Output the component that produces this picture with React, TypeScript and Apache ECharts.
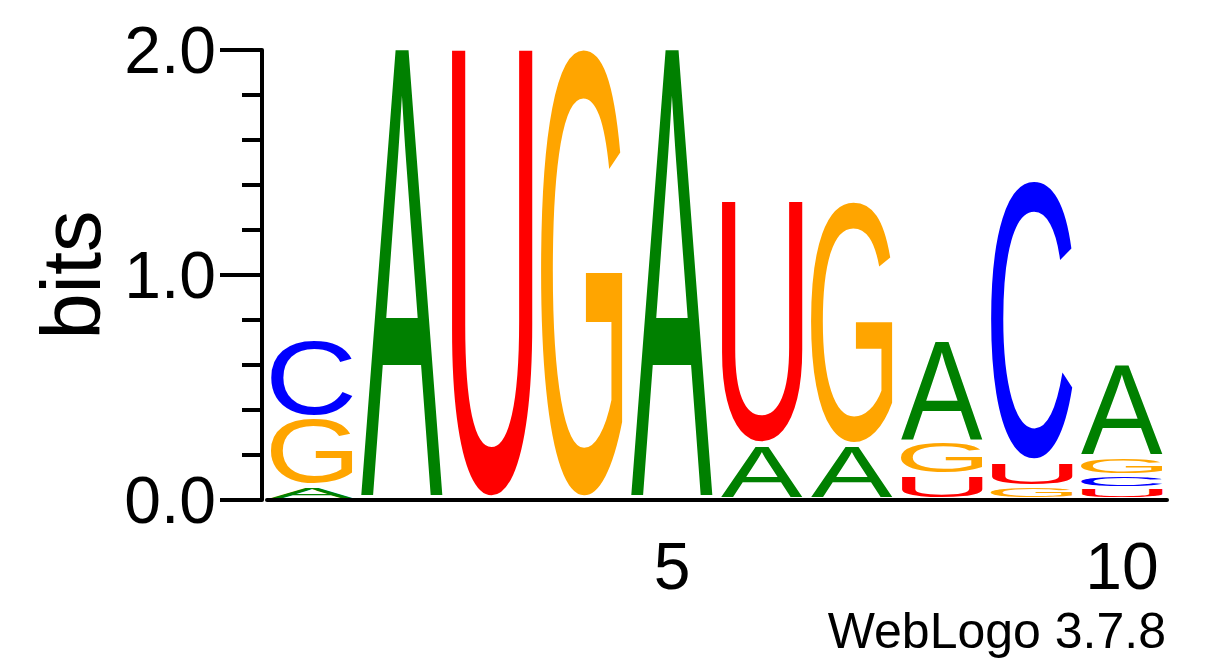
import React, { useEffect, useRef } from "react";
import * as echarts from "echarts";

const positions = ["1", "2", "3", "4", "5", "6", "7", "8", "9", "10"];
const letters = ["A", "C", "G", "U"];
const letterColors = ["#008000", "#0000ff", "#ffa500", "#ff0000"];

// information content (bits) of each letter at each position
const bitsA = [0.064, 2.0, 0, 0, 2.0, 0.242, 0.242, 0.453, 0, 0.409];
const bitsC = [0.346, 0, 0, 0, 0, 0, 0, 0, 1.249, 0.058];
const bitsG = [0.303, 0, 0, 2.0, 0, 0, 1.085, 0.151, 0.06, 0.084];
const bitsU = [0, 0, 2.0, 0, 0, 1.085, 0, 0.109, 0.107, 0.051];

const yTickLabels = ["0.0", "1.0", "2.0"];
const xTickLabels = ["5", "10"];

const FAMILY = '"Liberation Sans", Arial, Helvetica, sans-serif';
const LETTER_FONT = `100px ${FAMILY}`;

type Glyph = { left: number; width: number; top: number; height: number };

// ink box of each letter, in the local coords of a zrender text (central baseline at y=0)
function measureGlyphs(): Glyph[] {
  const ns = "http://www.w3.org/2000/svg";
  const svg = document.createElementNS(ns, "svg");
  svg.setAttribute("width", "400");
  svg.setAttribute("height", "400");
  svg.style.position = "absolute";
  svg.style.left = "-1000px";
  svg.style.top = "0";
  document.body.appendChild(svg);
  const boxTop = (baseline: string) => {
    const t = document.createElementNS(ns, "text");
    t.setAttribute("x", "0");
    t.setAttribute("y", "200");
    t.setAttribute("dominant-baseline", baseline);
    (t as any).style.font = LETTER_FONT;
    t.textContent = "A";
    svg.appendChild(t);
    return (t as any).getBBox().y;
  };
  const shift = boxTop("central") - boxTop("alphabetic");
  document.body.removeChild(svg);

  const ctx = document.createElement("canvas").getContext("2d")!;
  ctx.font = LETTER_FONT;
  ctx.textAlign = "left";
  ctx.textBaseline = "alphabetic";
  return letters.map((ch) => {
    const m = ctx.measureText(ch);
    return {
      left: -m.actualBoundingBoxLeft,
      width: m.actualBoundingBoxLeft + m.actualBoundingBoxRight,
      top: shift - m.actualBoundingBoxAscent,
      height: m.actualBoundingBoxAscent + m.actualBoundingBoxDescent,
    };
  });
}

const letterBits = [bitsA, bitsC, bitsG, bitsU];

const App: React.FC = () => {
  const chartRef = useRef<HTMLDivElement>(null);

  useEffect(() => {
    if (!chartRef.current) return;
    const glyphs = measureGlyphs();
    const chart = echarts.init(chartRef.current, null, { renderer: "svg" });

    // smallest letter at the bottom of each stack
    const stackData: number[][] = [];
    positions.forEach((_, i) => {
      const order = letters
        .map((_, k) => k)
        .filter((k) => letterBits[k][i] > 0)
        .sort((a, b) => letterBits[a][i] - letterBits[b][i]);
      let base = 0;
      order.forEach((k) => {
        const h = letterBits[k][i];
        stackData.push([i, base, base + h, k]);
        base += h;
      });
    });

    const showTick = (_: number, value: string) => xTickLabels.includes(value);

    const option = {
      animation: false,
      grid: { left: 267, right: 50, top: 50, bottom: 167 },
      xAxis: [
        {
          type: "category",
          data: positions,
          position: "bottom",
          axisLine: { show: true, lineStyle: { color: "#000", width: 4 } },
          axisTick: { alignWithLabel: true, interval: 0, length: 11, lineStyle: { color: "#000", width: 4 } },
          axisLabel: { show: false },
          splitLine: { show: false },
        },
        {
          type: "category",
          data: positions,
          position: "bottom",
          axisLine: { show: false },
          axisTick: { alignWithLabel: true, interval: showTick, length: 22, lineStyle: { color: "#000", width: 4 } },
          axisLabel: {
            interval: showTick,
            margin: 33,
            fontSize: 66,
            fontFamily: FAMILY,
            color: "#000",
          },
          splitLine: { show: false },
        },
      ],
      yAxis: {
        type: "value",
        min: 0,
        max: 2,
        interval: 1,
        offset: 5,
        name: "bits",
        nameLocation: "middle",
        nameRotate: 90,
        nameGap: 191,
        nameTextStyle: { fontSize: 83, fontFamily: FAMILY, color: "#000", verticalAlign: "middle" },
        axisLine: { show: true, lineStyle: { color: "#000", width: 4 } },
        axisTick: { show: true, length: 42, lineStyle: { color: "#000", width: 4 } },
        minorTick: { show: true, splitNumber: 5, length: 20, lineStyle: { color: "#000", width: 4 } },
        axisLabel: {
          margin: 46,
          fontSize: 66,
          fontFamily: FAMILY,
          color: "#000",
          formatter: (v: number) => yTickLabels[Math.round(v)],
        },
        splitLine: { show: false },
        minorSplitLine: { show: false },
      },
      series: [
        {
          type: "custom",
          xAxisIndex: 0,
          yAxisIndex: 0,
          silent: true,
          clip: false,
          encode: { x: 0, y: [1, 2] },
          data: stackData,
          renderItem: (_params: any, api: any) => {
            const i = api.value(0);
            const lo = api.value(1);
            const hi = api.value(2);
            const k = api.value(3);
            const [cx, yLo] = api.coord([i, lo]);
            const yHi = api.coord([i, hi])[1];
            const w = api.size([1, 0])[0] * 0.91;
            const inkTop = yHi + 1.5;
            const inkBottom = yLo - 2.5;
            if (inkBottom - inkTop < 0.5) return null;
            const g = glyphs[k];
            const sx = w / g.width;
            const sy = (inkBottom - inkTop) / g.height;
            return {
              type: "text",
              x: cx - w / 2 - sx * g.left,
              y: inkTop - sy * g.top,
              scaleX: sx,
              scaleY: sy,
              style: {
                text: letters[k],
                x: 0,
                y: 0,
                font: LETTER_FONT,
                fill: letterColors[k],
                align: "left",
                verticalAlign: "middle",
                textAlign: "left",
                textVerticalAlign: "middle",
              },
            };
          },
        },
      ],
      graphic: [
        {
          type: "text",
          x: 1166,
          y: 630.7,
          silent: true,
          style: {
            text: "WebLogo 3.7.8",
            font: `50px ${FAMILY}`,
            fill: "#000",
            align: "right",
            verticalAlign: "middle",
            textAlign: "right",
            textVerticalAlign: "middle",
          },
        },
      ],
    };
    chart.setOption(option as any);

    return () => {
      chart.dispose();
    };
  }, []);

  return (
    <div
      ref={chartRef}
      style={{ position: "absolute", left: 0, top: 0, width: 1217, height: 667, background: "#fff" }}
    />
  );
};

export default App;
